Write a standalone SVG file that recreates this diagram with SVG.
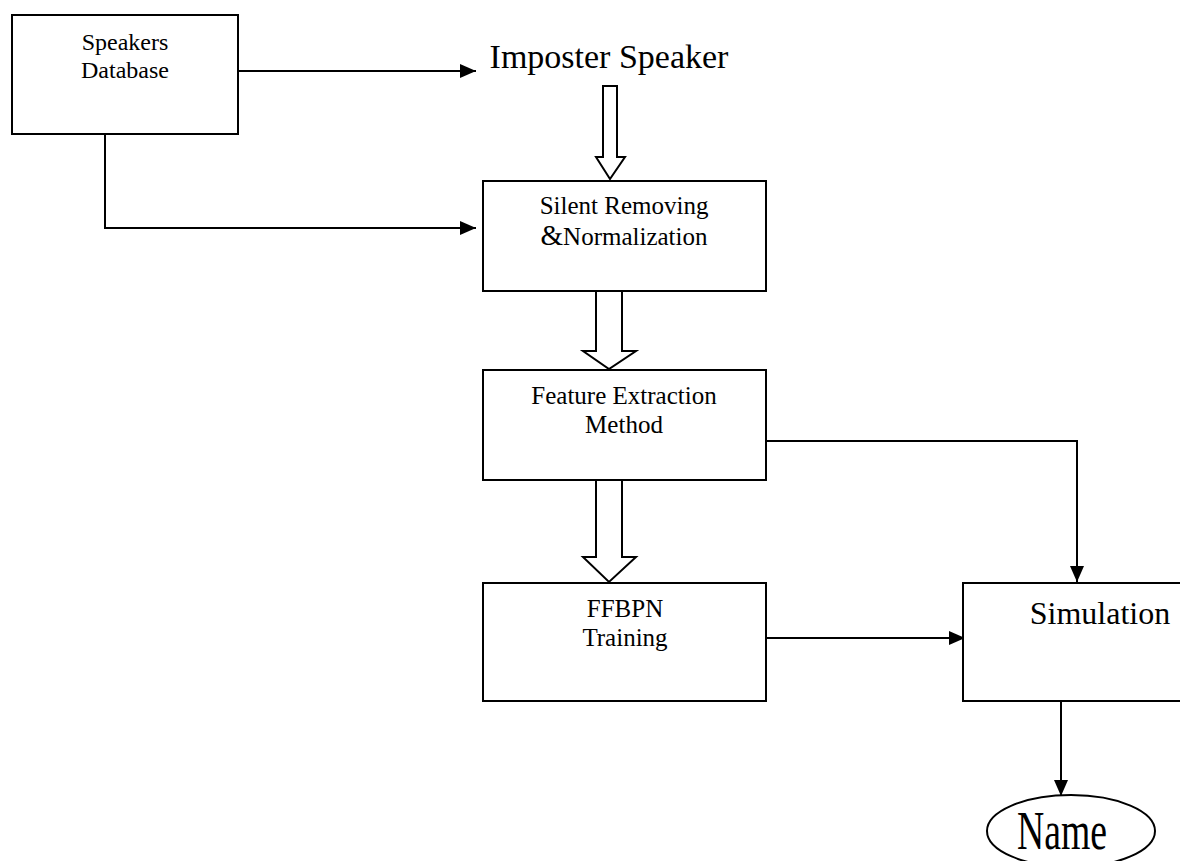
<svg xmlns="http://www.w3.org/2000/svg" width="1180" height="861" viewBox="0 0 1180 861">
<style>
.box{fill:#fff;stroke:#000;stroke-width:2}
.t{font-family:"Liberation Serif","Times New Roman",serif;fill:#000;text-anchor:middle}
.ln{fill:none;stroke:#000;stroke-width:2}
.hollow{fill:#fff;stroke:#000;stroke-width:2;stroke-linejoin:miter}
</style>
<defs>
<marker id="ah" markerUnits="userSpaceOnUse" markerWidth="18" markerHeight="14" refX="16" refY="7" orient="auto">
<path d="M0,0 L16,7 L0,14 Z" fill="#000"/>
</marker>
</defs>
<rect width="1180" height="861" fill="#fff"/>
<g id="connectors">
<path class="ln" d="M238,71 H476" marker-end="url(#ah)"/>
<path class="ln" d="M105,134 V228 H476" marker-end="url(#ah)"/>
<path class="hollow" d="M603,86 H617 V157 H625 L610,179 L596,157 H603 Z"/>
<path class="hollow" d="M596,291 H622 V351 H636 L609,369 L583,351 H596 Z"/>
<path class="hollow" d="M596,480 H622 V557 H636 L609,582 L583,557 H596 Z"/>
<path class="ln" d="M766,441 H1077 V582" marker-end="url(#ah)"/>
<path class="ln" d="M767,638 H965" marker-end="url(#ah)"/>
<path class="ln" d="M1061,701 V796" marker-end="url(#ah)"/>
</g>
<g id="speakers-database">
<rect class="box" x="12" y="15" width="226" height="119"/>
<text class="t" x="125" y="50" font-size="24">Speakers</text>
<text class="t" x="125" y="78" font-size="24">Database</text>
</g>
<g id="imposter-speaker">
<text class="t" x="609" y="68" font-size="34">Imposter Speaker</text>
</g>
<g id="silent-removing">
<rect class="box" x="483" y="181" width="283" height="110"/>
<text class="t" x="624" y="214" font-size="25">Silent Removing</text>
<text class="t" x="624" y="245" font-size="25"><tspan font-size="29">&amp;</tspan>Normalization</text>
</g>
<g id="feature-extraction">
<rect class="box" x="483" y="370" width="283" height="110"/>
<text class="t" x="624" y="404" font-size="25">Feature Extraction</text>
<text class="t" x="624" y="433" font-size="25">Method</text>
</g>
<g id="ffbpn-training">
<rect class="box" x="483" y="583" width="283" height="118"/>
<text class="t" x="625" y="617" font-size="25">FFBPN</text>
<text class="t" x="625" y="646" font-size="25">Training</text>
</g>
<g id="simulation">
<rect class="box" x="963" y="583" width="230" height="118"/>
<text class="t" x="1100" y="624" font-size="32">Simulation</text>
</g>
<g id="name">
<ellipse cx="1071" cy="831" rx="84" ry="36" fill="#fff" stroke="#000" stroke-width="2"/>
<text class="t" x="1062" y="849" font-size="54" textLength="90" lengthAdjust="spacingAndGlyphs">Name</text>
</g>
</svg>
